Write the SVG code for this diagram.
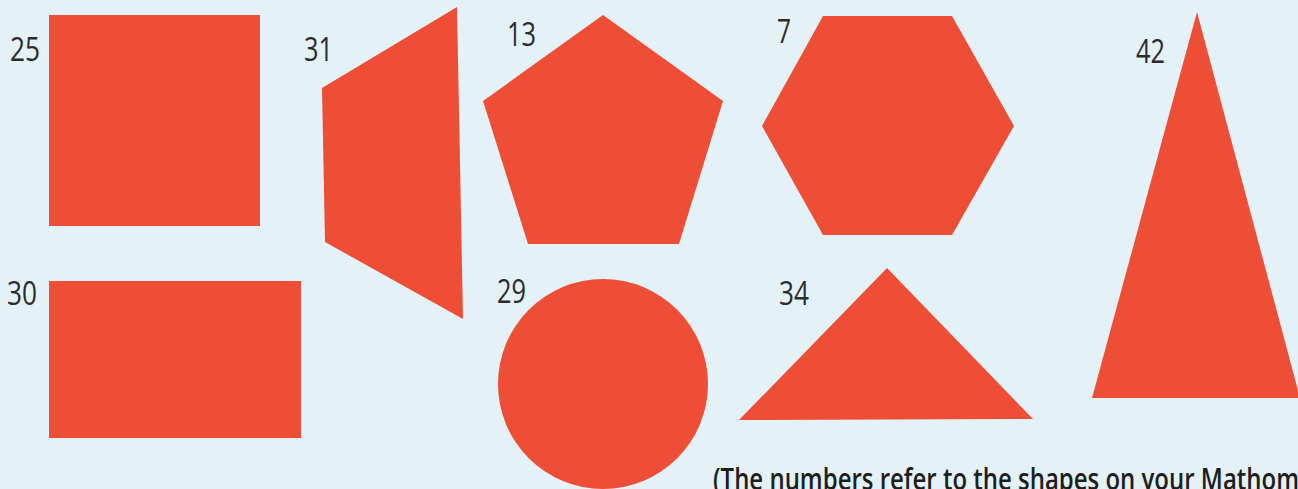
<svg xmlns="http://www.w3.org/2000/svg" width="1298" height="489" viewBox="0 0 1298 489">
<style>
.s{fill:#ee4e36}
.l{font-family:"Open Sans","DejaVu Sans",sans-serif;font-size:32px;fill:#2b2b2b}
.n{font-family:"Open Sans","DejaVu Sans",sans-serif;font-size:30px;font-weight:600;fill:#1e1e1e}
</style>
<rect width="1298" height="489" fill="#e4f2f7"/>
<g id="shape25"><rect class="s" x="49" y="15" width="211" height="211"/><text class="l" x="10" y="61" textLength="30" lengthAdjust="spacingAndGlyphs">25</text></g>
<g id="shape31"><polygon class="s" points="322,88 457,7 463,319 325,242"/><text class="l" x="304" y="61" textLength="29" lengthAdjust="spacingAndGlyphs">31</text></g>
<g id="shape13"><polygon class="s" points="603,15 723,101 679,244 528,244 483,101"/><text class="l" x="507" y="46" textLength="29" lengthAdjust="spacingAndGlyphs">13</text></g>
<g id="shape7"><polygon class="s" points="762,126 823,16 952,16 1014,126 952,235 823,235"/><text class="l" x="777" y="43" textLength="14" lengthAdjust="spacingAndGlyphs">7</text></g>
<g id="shape42"><polygon class="s" points="1197,12 1092,398 1300,398"/><text class="l" x="1136" y="63" textLength="29" lengthAdjust="spacingAndGlyphs">42</text></g>
<g id="shape30"><rect class="s" x="49" y="281" width="252" height="157"/><text class="l" x="7" y="305" textLength="30" lengthAdjust="spacingAndGlyphs">30</text></g>
<g id="shape29"><circle class="s" cx="603" cy="384" r="105"/><text class="l" x="497" y="303" textLength="29" lengthAdjust="spacingAndGlyphs">29</text></g>
<g id="shape34"><polygon class="s" points="887,268 739,420 1033,419"/><text class="l" x="779" y="305" textLength="30" lengthAdjust="spacingAndGlyphs">34</text></g>
<g id="connectors"/>
<text class="n" x="713" y="490" textLength="586" lengthAdjust="spacingAndGlyphs">(The numbers refer to the shapes on your Mathom</text>
</svg>
